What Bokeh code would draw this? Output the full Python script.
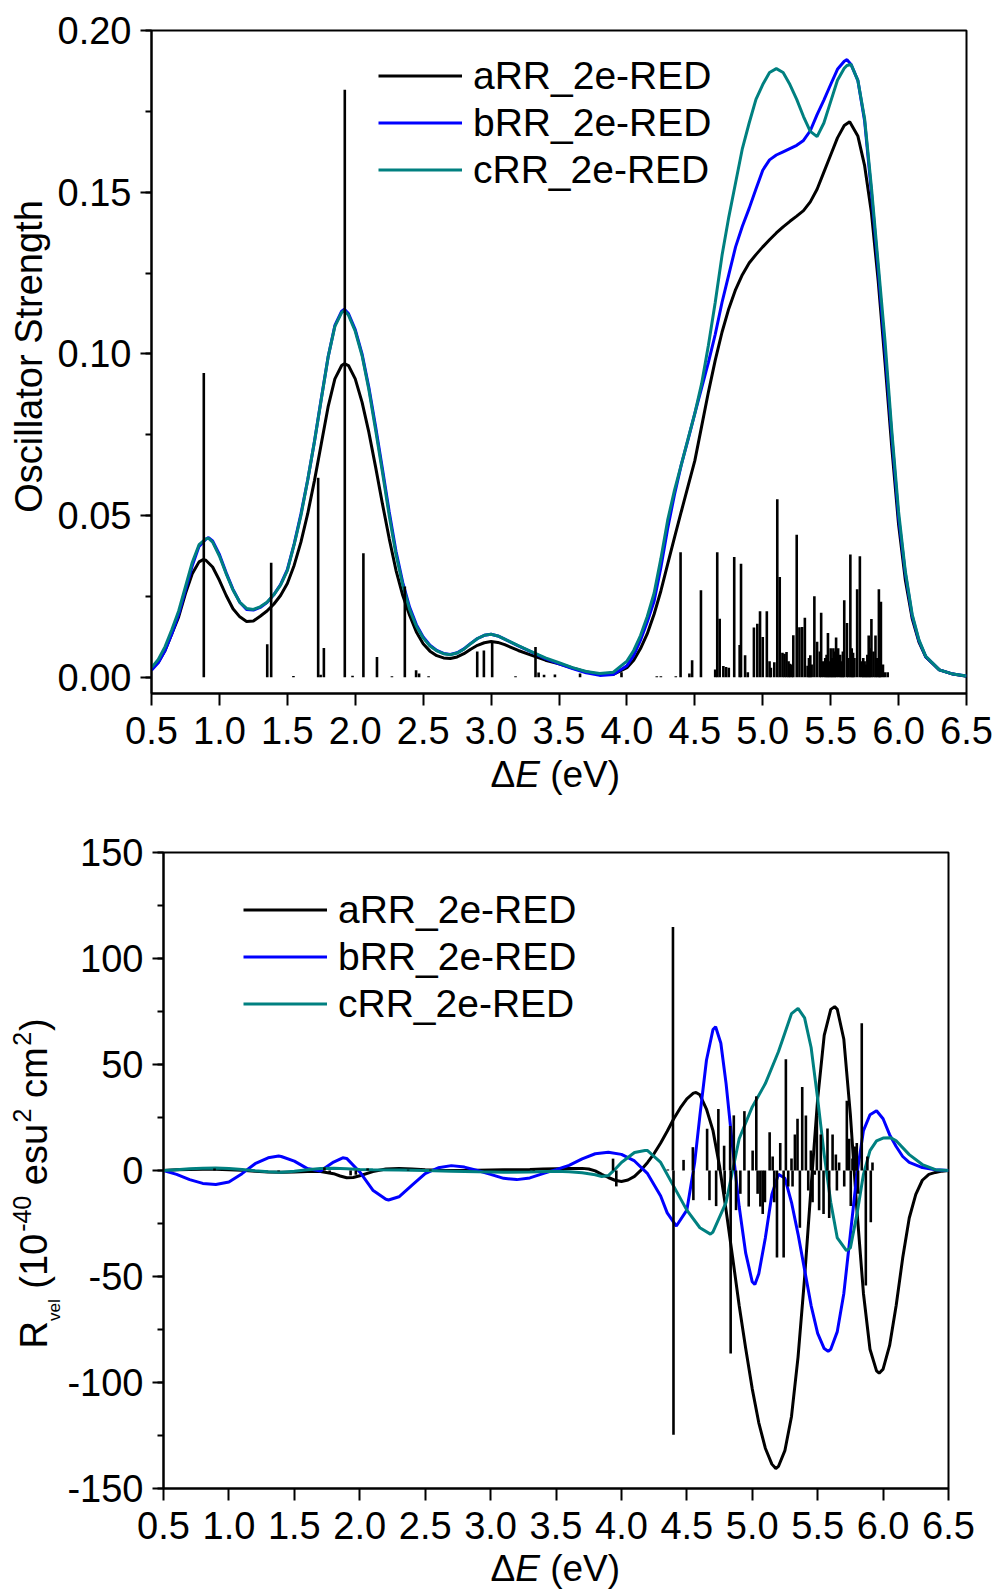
import math
from bokeh.plotting import figure
from bokeh.models import (Range1d, SingleIntervalTicker, NumeralTickFormatter,
                          Legend, LegendItem, Label)
from bokeh.layouts import column, row
from bokeh.embed import file_html
from bokeh.resources import INLINE

FONT = "Liberation Sans"
BLACK, BLUE, TEAL = "#000000", "#0000FF", "#008080"
SERIES = ["aRR_2e-RED", "bRR_2e-RED", "cRR_2e-RED"]

# ---------------- top panel: oscillator strength ----------------
osc_a_E = [0.5, 0.55, 0.6, 0.65, 0.7, 0.75, 0.8, 0.85, 0.88, 0.9, 0.95, 1.0, 1.05, 1.1, 1.15, 1.2, 1.25,
           1.3, 1.35, 1.4, 1.45, 1.5, 1.55, 1.6, 1.65, 1.7, 1.75, 1.8, 1.85, 1.9, 1.92, 1.95, 2.0, 2.05,
           2.1, 2.15, 2.2, 2.25, 2.3, 2.35, 2.4, 2.45, 2.5, 2.55, 2.6, 2.65, 2.7, 2.75, 2.8, 2.85, 2.9,
           2.95, 3.0, 3.05, 3.1, 3.2, 3.3, 3.4, 3.5, 3.6, 3.7, 3.8, 3.9, 4.0, 4.05, 4.1, 4.15, 4.2, 4.25,
           4.3, 4.35, 4.4, 4.45, 4.5, 4.55, 4.6, 4.65, 4.7, 4.75, 4.8, 4.85, 4.9, 4.95, 5.0, 5.05, 5.1,
           5.15, 5.2, 5.25, 5.3, 5.35, 5.4, 5.45, 5.5, 5.55, 5.6, 5.64, 5.7, 5.75, 5.8, 5.85, 5.9, 5.95,
           6.0, 6.05, 6.1, 6.15, 6.2, 6.3, 6.4, 6.5]
osc_a_f = [0.0027, 0.0047, 0.0083, 0.0135, 0.0187, 0.0259, 0.032, 0.0357, 0.0364, 0.0362, 0.0341, 0.030,
           0.0253, 0.0212, 0.0187, 0.0173, 0.0174, 0.0189, 0.0205, 0.0226, 0.0253, 0.029, 0.0346, 0.0418,
           0.0506, 0.0609, 0.0722, 0.0836, 0.0923, 0.0964, 0.097, 0.0964, 0.0923, 0.0851, 0.0758, 0.065,
           0.0537, 0.0429, 0.0331, 0.0253, 0.0192, 0.014, 0.0104, 0.0081, 0.0067, 0.006, 0.0058, 0.0063,
           0.0073, 0.0087, 0.0099, 0.0107, 0.0111, 0.0108, 0.0101, 0.0083, 0.0068, 0.0053, 0.0042, 0.0029,
           0.0017, 0.0009, 0.0009, 0.003, 0.0053, 0.0089, 0.0135, 0.0195, 0.0267, 0.035, 0.0432, 0.0512,
           0.0591, 0.067, 0.0776, 0.0882, 0.098, 0.1067, 0.114, 0.1199, 0.1245, 0.1281, 0.1307, 0.1331,
           0.1353, 0.1374, 0.1393, 0.141, 0.1426, 0.1443, 0.147, 0.1509, 0.1562, 0.1615, 0.1668, 0.1706,
           0.1718, 0.1674, 0.1582, 0.1437, 0.1225, 0.0974, 0.071, 0.0472, 0.030, 0.0182, 0.0109, 0.0063,
           0.0023, 0.001, 0.0003]

osc_bc_E = [0.5, 0.55, 0.6, 0.65, 0.7, 0.75, 0.8, 0.85, 0.9, 0.92, 0.95, 1.0, 1.05, 1.1, 1.15, 1.2, 1.25,
            1.3, 1.35, 1.4, 1.45, 1.5, 1.55, 1.6, 1.65, 1.7, 1.75, 1.8, 1.85, 1.9, 1.92, 1.95, 2.0, 2.05,
            2.1, 2.15, 2.2, 2.25, 2.3, 2.35, 2.4, 2.45, 2.5, 2.55, 2.6, 2.65, 2.7, 2.75, 2.8, 2.85, 2.9,
            2.95, 3.0, 3.05, 3.1, 3.2, 3.3, 3.4, 3.5, 3.6, 3.7, 3.8, 3.9, 4.0, 4.05, 4.1, 4.15, 4.2, 4.25,
            4.3, 4.35, 4.4, 4.45, 4.5, 4.55, 4.6, 4.65, 4.7, 4.75, 4.8, 4.85, 4.9, 4.95, 5.0, 5.05, 5.1,
            5.15, 5.2, 5.25, 5.3, 5.35, 5.4, 5.45, 5.5, 5.55, 5.6, 5.62, 5.65, 5.7, 5.75, 5.8, 5.85, 5.9,
            5.95, 6.0, 6.05, 6.1, 6.15, 6.2, 6.3, 6.4, 6.5]
osc_b_f = [0.0022, 0.0045, 0.0083, 0.0135, 0.0195, 0.027, 0.0345, 0.0405, 0.0427, 0.0432, 0.0422, 0.038,
           0.0323, 0.0272, 0.0232, 0.021, 0.0208, 0.0216, 0.0231, 0.0255, 0.0287, 0.0333, 0.0412, 0.0505,
           0.061, 0.073, 0.0862, 0.099, 0.1088, 0.1132, 0.1138, 0.1125, 0.1075, 0.1, 0.0897, 0.0775,
           0.0645, 0.0512, 0.039, 0.0293, 0.0217, 0.0163, 0.0125, 0.0099, 0.0083, 0.0074, 0.0071, 0.0076,
           0.0088, 0.0105, 0.012, 0.013, 0.0133, 0.0128, 0.0118, 0.0097, 0.0078, 0.0058, 0.0042, 0.0027,
           0.0014, 0.0006, 0.0009, 0.0036, 0.0068, 0.0115, 0.0172, 0.0235, 0.034, 0.046, 0.0565, 0.0657,
           0.0735, 0.0816, 0.0895, 0.0974, 0.106, 0.1159, 0.1245, 0.1331, 0.1395, 0.145, 0.151, 0.1568,
           0.16, 0.1615, 0.1625, 0.1635, 0.1645, 0.166, 0.169, 0.174, 0.1785, 0.1833, 0.188, 0.1905, 0.191,
           0.1895, 0.1846, 0.172, 0.150, 0.126, 0.101, 0.0745, 0.0495, 0.032, 0.019, 0.0113, 0.0064, 0.0023,
           0.001, 0.0004]
osc_c_f = [0.003, 0.0055, 0.0095, 0.0148, 0.0205, 0.028, 0.0355, 0.041, 0.0428, 0.043, 0.0418, 0.0375,
           0.032, 0.027, 0.0232, 0.0213, 0.021, 0.0218, 0.0232, 0.0255, 0.0285, 0.033, 0.041, 0.050, 0.061,
           0.073, 0.086, 0.099, 0.1085, 0.1128, 0.1134, 0.112, 0.107, 0.0995, 0.089, 0.0765, 0.0635, 0.050,
           0.038, 0.0285, 0.021, 0.0158, 0.0122, 0.0097, 0.0082, 0.0073, 0.007, 0.0075, 0.0087, 0.0104,
           0.012, 0.013, 0.0133, 0.0128, 0.0118, 0.0098, 0.0079, 0.006, 0.0045, 0.003, 0.0018, 0.0012,
           0.0016, 0.005, 0.0083, 0.0129, 0.0188, 0.026, 0.0367, 0.0486, 0.0578, 0.0657, 0.0737, 0.0816,
           0.0908, 0.1027, 0.1159, 0.1304, 0.1423, 0.1529, 0.1635, 0.1714, 0.1787, 0.1833, 0.187, 0.1882,
           0.187, 0.1833, 0.1787, 0.1734, 0.1688, 0.1672, 0.1714, 0.178, 0.1846, 0.1883, 0.1892, 0.1895,
           0.1846, 0.1727, 0.1516, 0.1278, 0.104, 0.0763, 0.0512, 0.0327, 0.0195, 0.0116, 0.0065, 0.0023,
           0.001, 0.0004]

osc_stick_E = [0.885, 1.352, 1.381, 1.545, 1.727, 1.745, 1.769, 1.923, 1.98, 2.06, 2.16, 2.27, 2.365,
               2.448, 2.47, 2.54, 2.898, 2.947, 3.008, 3.18, 3.327, 3.35, 3.39, 3.47, 3.655, 3.96, 4.22,
               4.25, 4.36, 4.395, 4.46, 4.48, 4.545, 4.65, 4.665, 4.683, 4.71, 4.73, 4.75, 4.79, 4.83,
               4.84, 4.87, 4.89, 4.935, 4.96, 4.98, 5.0, 5.03, 5.05, 5.06, 5.085, 5.107, 5.125, 5.145,
               5.16, 5.175, 5.19, 5.20, 5.215, 5.225, 5.25, 5.27, 5.29, 5.31, 5.33, 5.34, 5.35, 5.36,
               5.38, 5.40, 5.42, 5.43, 5.445, 5.46, 5.47, 5.48, 5.49, 5.50, 5.51, 5.52, 5.53, 5.54, 5.555,
               5.57, 5.58, 5.59, 5.60, 5.62, 5.63, 5.645, 5.655, 5.665, 5.675, 5.695, 5.715, 5.73, 5.74,
               5.75, 5.76, 5.77, 5.78, 5.79, 5.80, 5.815, 5.83, 5.84, 5.855, 5.86, 5.87, 5.885, 5.9, 5.92]
osc_stick_f = [0.0941, 0.0102, 0.0354, 0.0004, 0.0617, 0.0008, 0.0091, 0.1817, 0.0005, 0.0384, 0.0063,
               0.0003, 0.0281, 0.0022, 0.0012, 0.0003, 0.008, 0.0083, 0.0109, 0.0003, 0.0094, 0.0015,
               0.0008, 0.0009, 0.0012, 0.0016, 0.0003, 0.0003, 0.0003, 0.0387, 0.0012, 0.0053, 0.0269,
               0.0024, 0.0387, 0.0181, 0.0035, 0.0032, 0.003, 0.0372, 0.010, 0.0351, 0.0068, 0.0016,
               0.0154, 0.0166, 0.0204, 0.0125, 0.0204, 0.005, 0.003, 0.0047, 0.0551, 0.031, 0.0076, 0.0073,
               0.0078, 0.005, 0.0042, 0.004, 0.013, 0.0441, 0.0155, 0.0156, 0.0184, 0.0036, 0.006, 0.0068,
               0.004, 0.0251, 0.011, 0.008, 0.020, 0.005, 0.006, 0.007, 0.0137, 0.005, 0.009, 0.006, 0.009,
               0.008, 0.0123, 0.009, 0.007, 0.005, 0.008, 0.0238, 0.0168, 0.006, 0.038, 0.009, 0.0076,
               0.006, 0.0272, 0.0374, 0.005, 0.006, 0.005, 0.004, 0.007, 0.0129, 0.009, 0.018, 0.008,
               0.0129, 0.006, 0.0272, 0.008, 0.0234, 0.004, 0.0016, 0.0016]

# ---------------- bottom panel: rotatory strength ----------------
rot_a_E = [0.5, 0.6, 0.7, 0.8, 0.9, 1.0, 1.1, 1.2, 1.3, 1.4, 1.5, 1.6, 1.7, 1.8, 1.85, 1.9, 1.95, 2.0,
           2.1, 2.2, 2.3, 2.4, 2.5, 2.6, 2.7, 2.8, 2.9, 3.0, 3.1, 3.2, 3.3, 3.4, 3.5, 3.6, 3.7, 3.75, 3.8,
           3.85, 3.9, 3.95, 4.0, 4.05, 4.1, 4.15, 4.2, 4.25, 4.3, 4.35, 4.4, 4.45, 4.5, 4.55, 4.57, 4.6,
           4.65, 4.7, 4.75, 4.8, 4.85, 4.9, 4.95, 5.0, 5.05, 5.1, 5.15, 5.18, 5.2, 5.25, 5.3, 5.35, 5.4,
           5.45, 5.5, 5.55, 5.6, 5.63, 5.65, 5.7, 5.75, 5.8, 5.85, 5.9, 5.95, 5.97, 6.0, 6.05, 6.1, 6.15,
           6.2, 6.25, 6.3, 6.35, 6.4, 6.45, 6.5]
rot_a_R = [0.0, 0.3, 0.5, 0.6, 0.6, 0.4, 0.1, -0.4, -0.7, -0.8, -0.7, -0.5, -0.5, -1.5, -2.6, -3.4, -3.3,
           -2.5, -0.5, 0.7, 1.0, 0.7, 0.3, 0.1, 0.0, 0.0, 0.1, 0.2, 0.3, 0.4, 0.5, 0.7, 0.8, 0.9, 1.0, 0.7,
           -0.2, -1.8, -3.3, -4.6, -5.2, -4.5, -2.8, 0.2, 3.8, 8.0, 13.0, 18.5, 24.4, 29.5, 33.8, 36.5,
           36.8, 35.7, 29.0, 18.8, 2.0, -18.7, -41.0, -63.7, -84.0, -103.0, -119.0, -131.0, -138.5,
           -140.6, -139.6, -132.0, -116.0, -88.0, -50.6, -7.5, 33.8, 63.7, 76.0, 77.3, 76.0, 61.9, 26.3,
           -18.7, -58.0, -84.3, -94.5, -95.6, -93.7, -82.5, -63.7, -41.2, -22.4, -11.3, -4.6, -1.8, -0.9,
           -0.3, 0.0]

rot_b_E = [0.5, 0.6, 0.7, 0.8, 0.9, 1.0, 1.1, 1.2, 1.3, 1.38, 1.4, 1.5, 1.6, 1.7, 1.8, 1.87, 1.9, 2.0,
           2.1, 2.2, 2.22, 2.3, 2.4, 2.5, 2.6, 2.7, 2.8, 2.9, 3.0, 3.1, 3.2, 3.3, 3.4, 3.5, 3.6, 3.7, 3.8,
           3.9, 4.0, 4.1, 4.2, 4.3, 4.35, 4.42, 4.5, 4.56, 4.6, 4.65, 4.7, 4.72, 4.76, 4.8, 4.85, 4.9,
           4.95, 5.0, 5.02, 5.05, 5.1, 5.15, 5.2, 5.25, 5.3, 5.35, 5.4, 5.45, 5.5, 5.55, 5.58, 5.6, 5.65,
           5.7, 5.75, 5.8, 5.85, 5.9, 5.95, 6.0, 6.05, 6.1, 6.15, 6.2, 6.3, 6.4, 6.5]
rot_b_R = [0.0, -1.8, -4.3, -6.1, -6.6, -5.4, -1.5, 3.2, 6.0, 6.8, 6.6, 4.4, 0.9, -0.2, 4.0, 6.0, 5.7,
           -0.7, -9.3, -13.6, -13.9, -12.4, -6.9, -1.5, 1.3, 2.3, 1.6, 0.0, -1.8, -3.7, -4.3, -3.5, -1.5,
           0.4, 2.4, 5.5, 7.9, 8.6, 7.6, 4.5, -1.5, -12.0, -20.0, -26.2, -18.7, 3.8, 26.0, 52.0, 66.5,
           67.8, 60.0, 41.0, 11.0, -17.0, -39.0, -52.5, -53.8, -48.7, -31.8, -11.3, -1.8, -3.7, -15.0,
           -30.0, -46.8, -63.7, -76.8, -84.0, -85.3, -84.3, -76.0, -58.0, -30.0, -1.8, 18.8, 26.3, 28.2,
           24.4, 16.9, 11.3, 6.6, 3.8, 1.4, 0.4, 0.0]

rot_c_E = [0.5, 0.6, 0.7, 0.8, 0.9, 1.0, 1.1, 1.2, 1.3, 1.4, 1.5, 1.6, 1.7, 1.8, 1.9, 2.0, 2.1, 2.3, 2.5,
           2.7, 2.9, 3.1, 3.3, 3.5, 3.6, 3.7, 3.8, 3.85, 3.9, 3.95, 4.0, 4.1, 4.18, 4.2, 4.3, 4.4, 4.5,
           4.6, 4.68, 4.7, 4.8, 4.85, 4.9, 5.0, 5.1, 5.2, 5.25, 5.3, 5.35, 5.4, 5.45, 5.5, 5.55, 5.6,
           5.65, 5.72, 5.75, 5.8, 5.85, 5.9, 5.95, 6.0, 6.06, 6.1, 6.2, 6.3, 6.4, 6.5]
rot_c_R = [0.0, 0.4, 0.8, 1.1, 1.2, 1.0, 0.5, -0.1, -0.6, -0.8, -0.4, 0.3, 0.9, 1.1, 0.8, 0.5, 0.3, 0.2,
           0.0, -0.3, -0.6, -0.8, -0.7, -0.4, -0.6, -1.1, -2.0, -2.8, -2.4, 0.5, 3.8, 8.5, 9.4, 9.4, 3.8,
           -7.5, -18.7, -27.0, -30.0, -29.0, -15.0, 0.0, 15.0, 30.0, 41.0, 56.0, 65.0, 74.0, 76.5, 72.0,
           58.0, 33.8, 7.5, -15.0, -31.8, -37.8, -36.5, -20.7, -1.8, 9.4, 14.0, 15.3, 15.4, 14.0, 7.5,
           2.8, 0.4, 0.0]

rot_stick_E = [0.89, 1.38, 1.73, 1.77, 1.93, 1.97, 2.06, 2.37, 2.54, 3.33, 3.936, 3.961, 4.355, 4.394,
               4.398, 4.475, 4.546, 4.55, 4.655, 4.673, 4.724, 4.741, 4.785, 4.789, 4.831, 4.835, 4.859,
               4.876, 4.909, 4.940, 4.973, 5.003, 5.031, 5.041, 5.062, 5.080, 5.097, 5.133, 5.156, 5.168,
               5.189, 5.214, 5.240, 5.257, 5.275, 5.300, 5.308, 5.326, 5.346, 5.364, 5.382, 5.410, 5.428,
               5.448, 5.461, 5.478, 5.494, 5.511, 5.524, 5.545, 5.575, 5.588, 5.614, 5.639, 5.647, 5.664,
               5.703, 5.723, 5.741, 5.753, 5.766, 5.784, 5.799, 5.809, 5.837, 5.868, 5.880, 5.906, 5.919]
rot_stick_R = [0.9, -0.4, 1.5, -1.0, -2.3, -2.0, 1.0, 0.4, 0.4, 1.0, 5.6, -7.5, 0.5, 114.8, -124.6, 5.0,
               11.0, -14.0, 19.7, -14.0, -16.8, 29.0, 11.7, -11.2, 21.0, -86.3, 26.0, -18.7, -11.0, 28.0,
               -17.0, 9.4, 35.0, -11.0, -17.0, -20.5, -15.0, 18.0, 6.6, -15.0, -41.0, 13.0, -41.0, 52.5,
               -7.5, 5.7, -7.5, 17.0, 24.4, -27.0, 39.4, 26.0, -9.4, 9.4, -15.0, -2.0, 25.8, -18.7, 17.0,
               -20.5, 19.8, -22.4, 17.0, 7.5, -9.4, 3.8, -7.5, 32.9, 15.0, -16.8, 5.7, 11.3, 13.0, -11.0,
               69.4, -54.3, 6.6, -24.4, 3.8]

for a, b in [(osc_a_E, osc_a_f), (osc_bc_E, osc_b_f), (osc_bc_E, osc_c_f), (osc_stick_E, osc_stick_f),
             (rot_a_E, rot_a_R), (rot_b_E, rot_b_R), (rot_c_E, rot_c_R), (rot_stick_E, rot_stick_R)]:
    assert len(a) == len(b), (len(a), len(b))

# ---------------- styling helpers ----------------
TICK_PX = "38px"
LABEL_PX = 38
XLABEL_PX = 37
LEGEND_PX = "39px"
CURVE_W = 3
STICK_W = 2.6
CENTER_SHIFT = 0.35   # distance (em) from the alphabetic baseline to the text box centre
# approximate advance widths (em) of Liberation Sans, used to chain label pieces
ADV = {'R': .722, 'v': .5, 'e': .556, 'l': .222, ' ': .278, '(': .333, ')': .333, '1': .556, '0': .556,
       '-': .333, '4': .556, 's': .5, 'u': .556, '2': .556, 'c': .5, 'm': .833, 'E': .667, 'V': .667,
       '\u0394': .668}


def text_width(s, size):
    return sum(ADV.get(ch, .556) for ch in s) * size


def make_plot(width, height, yr, left, right, top, bottom):
    p = figure(width=width, height=height, x_range=Range1d(0.5, 6.5), y_range=Range1d(*yr),
               output_backend="svg", toolbar_location=None,
               min_border_left=left, min_border_right=right, min_border_top=top,
               min_border_bottom=bottom)
    p.xgrid.visible = False
    p.ygrid.visible = False
    p.outline_line_color = "black"
    p.outline_line_width = 2
    p.outline_line_alpha = 1.0
    p.background_fill_color = "white"
    p.border_fill_color = "white"
    for ax in (p.xaxis[0], p.yaxis[0]):
        ax.axis_line_color = "black"
        ax.axis_line_width = 2
        ax.major_tick_line_color = "black"
        ax.minor_tick_line_color = "black"
        ax.major_tick_line_width = 2
        ax.minor_tick_line_width = 2
        ax.major_tick_in = 0
        ax.minor_tick_in = 0
        ax.major_label_text_font = FONT
        ax.major_label_text_font_size = TICK_PX
        ax.major_label_text_color = "black"
    p.xaxis[0].ticker = SingleIntervalTicker(interval=0.5, num_minor_ticks=0)
    p.xaxis[0].formatter = NumeralTickFormatter(format="0.0")
    p.xaxis[0].major_tick_out = 12
    p.xaxis[0].minor_tick_out = 0
    p.xaxis[0].major_label_standoff = 11
    p.yaxis[0].major_tick_out = 11
    p.yaxis[0].minor_tick_out = 6
    p.yaxis[0].major_label_standoff = 9
    return p


def label_fig(w, h, yspan=None):
    # pixel-unit canvas for axis titles; in a row its frame is aligned with the plot frame,
    # so yspan is the plot-frame height
    f = figure(width=w, height=h, x_range=Range1d(0, w), y_range=Range1d(0, yspan or h),
               x_axis_type=None, y_axis_type=None, output_backend="svg", toolbar_location=None,
               min_border=0, min_border_left=0, min_border_right=0, min_border_top=0,
               min_border_bottom=0)
    f.outline_line_color = None
    f.background_fill_color = "white"
    f.border_fill_color = "white"
    f.xgrid.visible = False
    f.ygrid.visible = False
    return f


def add_label(f, x, y, text, size, angle=0.0, align="left", italic=False, x_offset=0.0):
    # (x, y) is a point on the alphabetic baseline; Bokeh anchors the middle of the text box,
    # so shift towards the glyph tops.
    s = CENTER_SHIFT * size
    if angle:
        x -= s
    else:
        y += s
    f.add_layout(Label(x=x, y=y, text=text, angle=angle, angle_units="rad", text_font=FONT,
                       text_font_size=f"{size}px", text_align=align, text_baseline="middle",
                       text_color="black", text_font_style="italic" if italic else "normal",
                       x_offset=x_offset))


def add_energy_label(f, x, y):
    # "ΔE (eV)" with an italic E
    off = 0.0
    for txt, it, gap in [("\u0394", False, 0), ("E", True, 0), ("(eV)", False, 1)]:
        off += gap * text_width(" ", XLABEL_PX)
        add_label(f, x, y, txt, XLABEL_PX, italic=it, x_offset=off)
        off += text_width(txt, XLABEL_PX)


def add_legend(p, renderers, loc):
    leg = Legend(items=[LegendItem(label=s, renderers=[r]) for s, r in zip(SERIES, renderers)],
                 location=loc)
    leg.label_text_font = FONT
    leg.label_text_font_size = LEGEND_PX
    leg.label_text_color = "black"
    leg.glyph_width = 84
    leg.glyph_height = 47
    leg.label_height = 47
    leg.label_standoff = 11
    leg.spacing = 0
    leg.padding = 0
    leg.margin = 0
    leg.border_line_color = None
    leg.background_fill_alpha = 0
    p.add_layout(leg)


PAGE_W = 996

# ---------------- top block (page rows 0 .. 752) ----------------
F1_TOP, F1_BOT = 30, 693
H_A = F1_BOT + 59
W_YL1 = 54
p1 = make_plot(PAGE_W - W_YL1, H_A, (-0.005, 0.2), 151 - W_YL1, PAGE_W - 966, F1_TOP, H_A - F1_BOT)
p1.yaxis[0].ticker = SingleIntervalTicker(interval=0.05, num_minor_ticks=2)
p1.yaxis[0].formatter = NumeralTickFormatter(format="0.00")

ra = p1.line(osc_a_E, osc_a_f, line_color=BLACK, line_width=CURVE_W)
rb = p1.line(osc_bc_E, osc_b_f, line_color=BLUE, line_width=CURVE_W)
rc = p1.line(osc_bc_E, osc_c_f, line_color=TEAL, line_width=CURVE_W)
p1.segment(x0=osc_stick_E, y0=[0.0] * len(osc_stick_E), x1=osc_stick_E, y1=osc_stick_f,
           line_color=BLACK, line_width=STICK_W)
add_legend(p1, [ra, rb, rc], (227, 500))

yl1 = label_fig(W_YL1, H_A, F1_BOT - F1_TOP)
add_label(yl1, 42, F1_BOT - 356, "Oscillator Strength", LABEL_PX, angle=math.pi / 2, align="center")

H_B = 44
xl1 = label_fig(PAGE_W, H_B)
add_energy_label(xl1, 490, H_A + H_B - 787)

# ---------------- bottom block ----------------
TOP_C = H_A + H_B
F2_TOP, F2_BOT = 852, 1488
H_C = F2_BOT + 59 - TOP_C
W_YL2 = 64
p2 = make_plot(PAGE_W - W_YL2, H_C, (-150, 150), 161 - W_YL2, PAGE_W - 948, F2_TOP - TOP_C,
               TOP_C + H_C - F2_BOT)
p2.yaxis[0].ticker = SingleIntervalTicker(interval=50, num_minor_ticks=2)
p2.yaxis[0].formatter = NumeralTickFormatter(format="0")

sa = p2.line(rot_a_E, rot_a_R, line_color=BLACK, line_width=CURVE_W)
sb = p2.line(rot_b_E, rot_b_R, line_color=BLUE, line_width=CURVE_W)
sc = p2.line(rot_c_E, rot_c_R, line_color=TEAL, line_width=CURVE_W)
p2.segment(x0=rot_stick_E, y0=[0.0] * len(rot_stick_E), x1=rot_stick_E, y1=rot_stick_R,
           line_color=BLACK, line_width=STICK_W)
add_legend(p2, [sa, sb, sc], (80, F2_BOT - 886 - 141))

# vertical composite label  R_vel (10^-40 esu^2 cm^2), drawn bottom-to-top
yl2 = label_fig(W_YL2, H_C, F2_BOT - F2_TOP)
# (text, font px, baseline x in px, gap in px before the piece)
SP = text_width(" ", LABEL_PX)
pieces = [("R", LABEL_PX, 47, 0), ("vel", 17, 60, 0), ("(10", LABEL_PX, 47, SP), ("-40", 25, 30, 2),
          ("esu", LABEL_PX, 47, SP), ("2", 25, 30, 1.5), ("cm", LABEL_PX, 47, SP), ("2", 25, 30, 1.5),
          (")", LABEL_PX, 47, 1)]
y_cur = F2_BOT - 1348
for txt, size, bx, gap in pieces:
    y_cur += gap
    add_label(yl2, bx, y_cur, txt, size, angle=math.pi / 2)
    y_cur += text_width(txt, size)

H_D = 1590 - TOP_C - H_C
xl2 = label_fig(PAGE_W, H_D)
add_energy_label(xl2, 490, 1590 - 1581)

layout = column(row(yl1, p1, spacing=0), xl1, row(yl2, p2, spacing=0), xl2, spacing=0)
with open("out.html", "w") as fh:
    fh.write(file_html(layout, INLINE))
